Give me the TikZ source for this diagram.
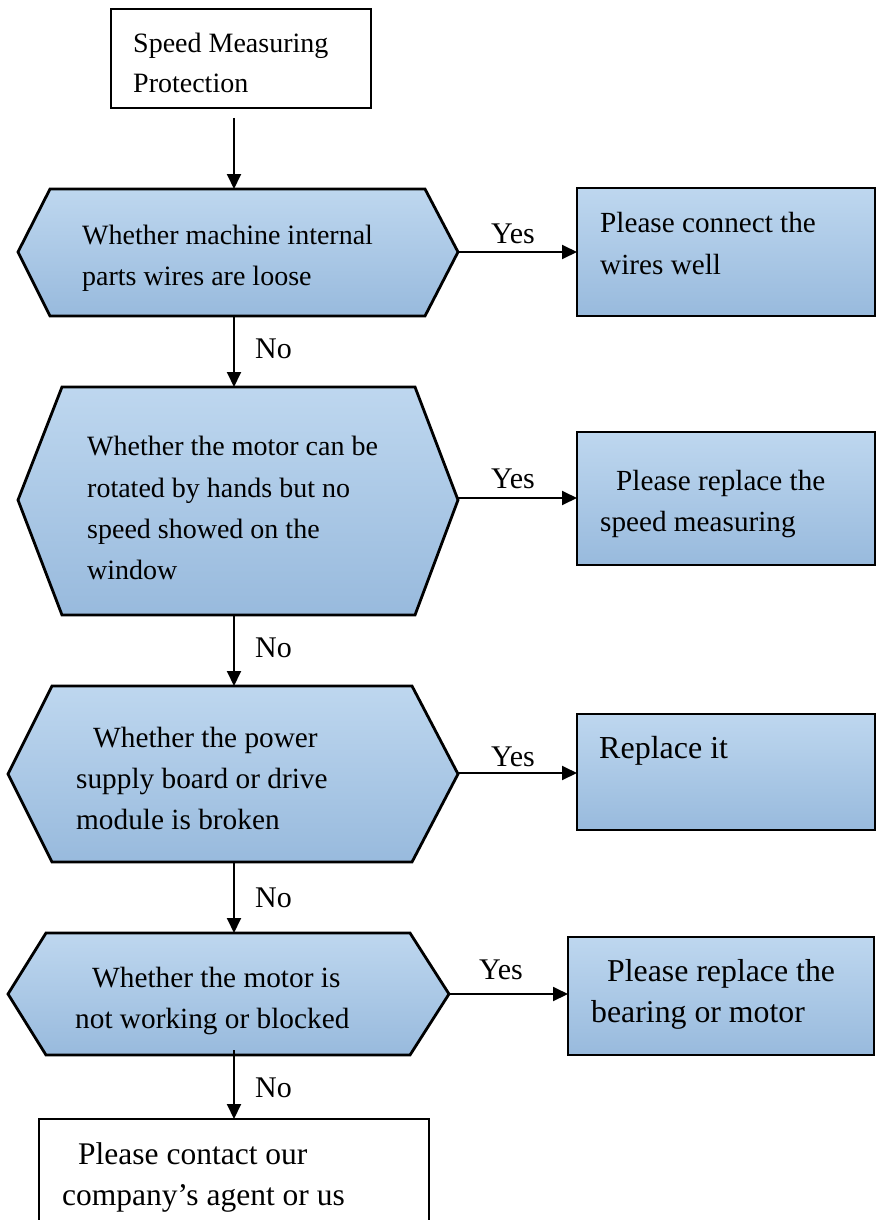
\documentclass[tikz,border=0pt]{standalone}
\usepackage{fontspec}
\setmainfont{Liberation Serif}
\usetikzlibrary{arrows.meta}
\definecolor{topb}{RGB}{190,215,239}
\definecolor{botb}{RGB}{152,186,221}
\tikzset{
  fillshape/.style={draw=black, line width=2.8pt, top color=topb, bottom color=botb},
  plainbox/.style={draw=black, line width=2.8pt, fill=white, rectangle, inner sep=0pt, outer sep=0pt, anchor=north west},
  bluebox/.style={fillshape, rectangle, inner sep=0pt, outer sep=0pt, anchor=north west},
  arr/.style={line width=1.9pt, -{Triangle[length=15pt,width=14pt]}},
  txt/.style={anchor=base west, inner sep=0pt, font=\fontsize{#1}{41}\selectfont},
  txt/.default=28,
}
\begin{document}
\begin{tikzpicture}[x=1pt,y=-1pt]
\useasboundingbox (0,0) rectangle (876,1220);

% top box
\node[plainbox, minimum width=260pt, minimum height=99pt] (top) at (111,9) {};
\node[txt] (t1) at (133,53) {Speed Measuring};
\node[txt] (t2) at (133,93) {Protection};

% hexagon 1
\draw[fillshape] (18,252) -- (50,189) -- (425,189) -- (458,252) -- (425,316) -- (50,316) -- cycle;
\coordinate (h1n) at (234,189);
\coordinate (h1s) at (234,316);
\coordinate (h1e) at (458,252);
\node[txt] (h1a) at (82,244) {Whether machine internal};
\node[txt] (h1b) at (82,285) {parts wires are loose};

% box 1
\node[bluebox, minimum width=298pt, minimum height=128pt] (b1) at (577,188) {};
\node[txt=29.2] (b1a) at (600,232) {Please connect the};
\node[txt=29.2] (b1b) at (600,274) {wires well};

% hexagon 2
\draw[fillshape] (18,500) -- (62,387) -- (415,387) -- (458,500) -- (415,615) -- (62,615) -- cycle;
\coordinate (h2n) at (234,387);
\coordinate (h2s) at (234,615);
\coordinate (h2e) at (458,498);
\node[txt] (h2a) at (87,455) {Whether the motor can be};
\node[txt] (h2b) at (87,497) {rotated by hands but no};
\node[txt] (h2c) at (87,538) {speed showed on the};
\node[txt] (h2d) at (87,579) {window};

% box 2
\node[bluebox, minimum width=298pt, minimum height=133pt] (b2) at (577,432) {};
\node[txt=29.2] (b2a) at (616,490) {Please replace the};
\node[txt=29.2] (b2b) at (600,531) {speed measuring};

% hexagon 3
\draw[fillshape] (8,774) -- (52,686) -- (412,686) -- (458,774) -- (412,862) -- (52,862) -- cycle;
\coordinate (h3n) at (234,686);
\coordinate (h3s) at (234,862);
\coordinate (h3e) at (458,773);
\node[txt=29.3] (h3a) at (93,747) {Whether the power};
\node[txt=29.3] (h3b) at (76,788) {supply board or drive};
\node[txt=29.3] (h3c) at (76,829) {module is broken};

% box 3
\node[bluebox, minimum width=298pt, minimum height=116pt] (b3) at (577,714) {};
\node[txt=32] (b3a) at (599,758) {Replace it};

% hexagon 4
\draw[fillshape] (8,994) -- (46,933) -- (410,933) -- (449,994) -- (410,1055) -- (46,1055) -- cycle;
\coordinate (h4n) at (234,933);
\coordinate (h4s) at (234,1050);
\coordinate (h4e) at (449,994);
\node[txt=29.3] (h4a) at (92,987) {Whether the motor is};
\node[txt=29.3] (h4b) at (75,1028) {not working or blocked};

% box 4
\node[bluebox, minimum width=306pt, minimum height=118pt] (b4) at (568,937) {};
\node[txt=31.8] (b4a) at (607,981) {Please replace the};
\node[txt=31.8] (b4b) at (591,1022) {bearing or motor};

% bottom box
\node[plainbox, minimum width=390pt, minimum height=130pt] (end) at (39,1119) {};
\node[txt=31.5] (e1) at (78,1164) {Please contact our};
\node[txt=31.5] (e2) at (62,1205) {company's agent or us};

% connectors
\coordinate (topout) at (234,118);
\draw[arr] (topout) -- (h1n);
\draw[arr] (h1e) -- (h1e -| b1.west);
\draw[arr] (h1s) -- (h2n);
\draw[arr] (h2e) -- (h2e -| b2.west);
\draw[arr] (h2s) -- (h3n);
\draw[arr] (h3e) -- (h3e -| b3.west);
\draw[arr] (h3s) -- (h4n);
\draw[arr] (h4e) -- (h4e -| b4.west);
\draw[arr] (h4s) -- (end.north);

% labels
\node[txt=30] (y1) at (491,243) {Yes};
\node[txt=30] (y2) at (491,488) {Yes};
\node[txt=30] (y3) at (491,766) {Yes};
\node[txt=30] (y4) at (479,979) {Yes};
\node[txt=30] (n1) at (255,358) {No};
\node[txt=30] (n2) at (255,657) {No};
\node[txt=30] (n3) at (255,907) {No};
\node[txt=30] (n4) at (255,1097) {No};
\end{tikzpicture}
\end{document}
